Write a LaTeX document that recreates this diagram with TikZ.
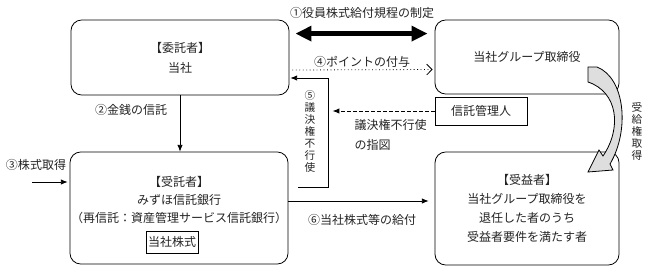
\documentclass[tikz,border=0pt]{standalone}
\usepackage{fontspec}
\setmainfont{Noto Sans CJK JP}
\usepackage{xcolor}
\usepackage{tikz}
\usetikzlibrary{arrows.meta, calc}
\definecolor{ink}{RGB}{35,35,35}
\definecolor{shade}{RGB}{222,222,222}

\begin{document}
\begin{tikzpicture}[x=0.75pt, y=-0.75pt, text=ink,
  font=\fontsize{9}{15}\selectfont,
  rbox/.style={draw, rounded corners=8pt, line width=0.6pt, align=center, inner sep=0pt},
  sbox/.style={draw, line width=0.6pt, inner sep=0pt},
  vtext/.style={align=center, inner sep=0pt, font=\fontsize{8}{9}\selectfont},
  flow/.style={-{Latex[length=5pt,width=4pt]}, line width=0.6pt}]
  \useasboundingbox (0,0) rectangle (648,271);

  % Boxes --- top row
  \node[rbox, minimum width=163.5pt, minimum height=56.25pt] (client) at (180,57.5)
    {【委託者】\\当社};
  \node[rbox, minimum width=138pt, minimum height=55.5pt] (exec) at (527,57)
    {当社グループ取締役};
  \node[sbox, minimum width=69pt, minimum height=21pt] (admin) at (481,111) {信託管理人};

  % Boxes --- bottom row
  \node[rbox, minimum width=163.5pt, minimum height=84pt] (trustee) at (179,208) {};
  \node[align=center, font=\fontsize{9}{13.5}\selectfont] (trusteetxt) at (179,200)
    {【受託者】\\みずほ信託銀行\\（再信託：資産管理サービス信託銀行）};
  \node[sbox, minimum width=39pt, minimum height=16.5pt] (shares) at (172,242) {当社株式};
  \node[rbox, minimum width=138pt, minimum height=84.75pt,
        font=\fontsize{9}{14.25}\selectfont] (benef) at (527,208.5)
    {【受益者】\\当社グループ取締役を\\退任した者のうち\\受益者要件を満たす者};

  % (1) rules --- thick double arrow
  \draw[line width=3.75pt, {Triangle[length=12pt,width=11pt]}-{Triangle[length=12pt,width=11pt]}]
    ([shift={(6,14)}]client.north east) -- ([shift={(-7,14)}]exec.north west);
  \node (lblrule) at (362,13) {①役員株式給付規程の制定};

  % (4) points
  \draw[dotted, line width=0.6pt, -{Straight Barb[length=4pt,width=8pt]}]
    ([shift={(3,12.5)}]client.east) -- ([shift={(-2,12.5)}]exec.west);
  \node (lblpoint) at (362,62) {④ポイントの付与};

  % (5) voting rights
  \coordinate (vbase) at (298,187);
  \coordinate (vcorner) at (328,78);
  \draw[flow] (vbase) -| (vcorner) -- ([shift={(1,20.5)}]client.east);
  \node[vtext] (vote) at (310,131) {⑤\\議\\決\\権\\不\\行\\使};
  \draw[flow, dash pattern=on 2.5pt off 2pt, shorten >=3.5pt]
    (admin.west) -- (admin.west -| vcorner);
  \node[anchor=west, align=left] (lblorder) at (350,135) {議決権不行使\\の指図};

  % (2) money
  \draw[flow] (client.south) -- (client.south |- trustee.north);
  \node (lblmoney) at (131,110) {②金銭の信託};

  % (3) share purchase
  \coordinate (buy) at (32,182);
  \draw[flow, shorten >=1.5pt] (buy) -- (buy -| trustee.west);
  \node (lblbuy) at (36,165) {③株式取得};

  % (6) delivery
  \draw[flow] ([shift={(0,-7)}]trustee.east) -- ([shift={(-6,-7.5)}]benef.west);
  \node (lbldeliver) at (362,220) {⑥当社株式等の給付};

  % Entitlement --- broad curved arrow
  \filldraw[fill=shade, draw=black, line width=0.6pt, line join=miter]
    (588,67) -- (597,67) .. controls (625,78) and (630,130) .. (610,164)
    -- (613,170) -- (588,172) -- (599,150) -- (603,156)
    .. controls (622,128) and (618,92) .. (588,82) -- cycle;
  \node[vtext] (grant) at (637,131) {受\\給\\権\\取\\得};
\end{tikzpicture}
\end{document}
